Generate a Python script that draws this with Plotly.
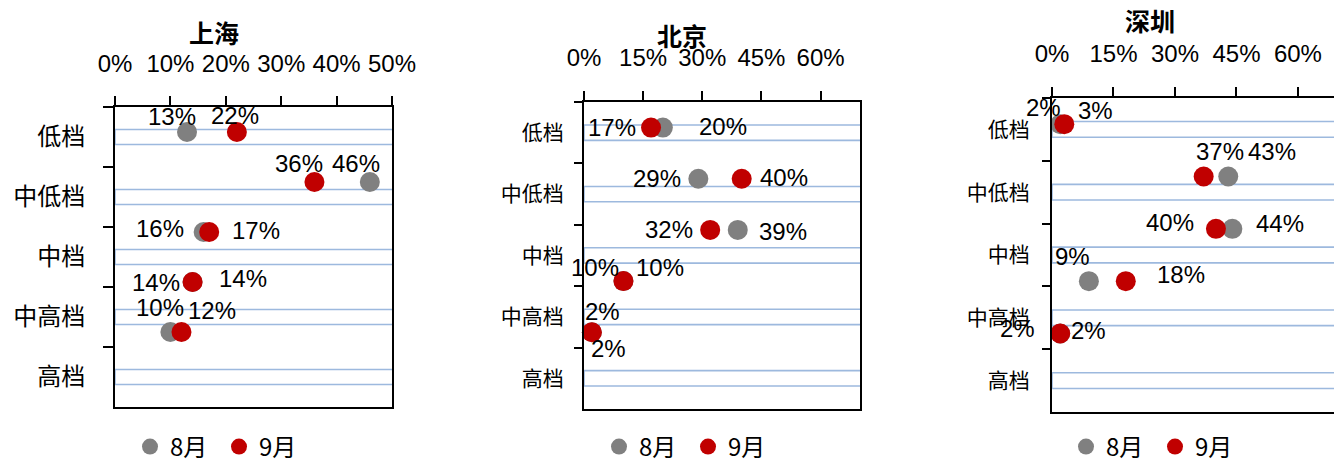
import plotly.graph_objects as go

# ---------------- data ----------------
categories = ["低档", "中低档", "中档", "中高档", "高档"]
cities = ["上海", "北京", "深圳"]

sh_aug = [0.13, 0.46, 0.16, 0.14, 0.10]
sh_sep = [0.22, 0.36, 0.17, 0.14, 0.12]
bj_aug = [0.20, 0.29, 0.39, 0.10, 0.02]
bj_sep = [0.17, 0.40, 0.32, 0.10, 0.02]
sz_aug = [0.02, 0.43, 0.44, 0.09, 0.02]
sz_sep = [0.03, 0.37, 0.40, 0.18, 0.02]

# y values of the dot series on the secondary (0..6) axis, as in the source chart
dot_y = [5.5, 4.5, 3.5, 2.5, 1.5]
# decorative band series (hidden bars with light-blue outline)
band_vals = [1.0, 1.0, 1.0, 1.0, 1.0]

x_ranges = [[0, 0.5], [0, 0.70], [0, 0.688]]
x_dticks = [0.10, 0.15, 0.15]

# ---------------- styles ----------------
W, H = 1334, 461
GRAY = "#808080"
RED = "#C00000"
BAND = "#9DB9DE"
NUMFONT = "Liberation Sans, Arial, Noto Sans CJK SC"
CJKFONT = "Noto Sans CJK SC, Liberation Sans"

# plot-area pixel boxes (left, right, top, bottom)
boxes = [(115, 392, 107, 407), (584, 860, 102, 409), (1052, 1334, 98, 412)]
cat_font_sizes = [24, 21, 21]
ytick_len = [10, 8, 8]
ylab_standoff = [23, 14, 16]
xlab_standoff = [14, 15, 15]
title_pos = [(214, 32), (682, 35), (1150, 20)]
legend_x = [130, 599, 1066]

# label offsets in pixels (dx, dy screen-down) for 8月 and 9月 labels
aug_off = [
    [(-15, -16), (-14, -19), (-44, -4), (-37, 0), (-10, -25)],
    [(60, -1), (-41, 0), (45, 2), (-28, -14), (11, -21)],
    [(-17, -17), (44, -25), (48, -5), (-16, -25), (-43, -5)],
]
sep_off = [
    [(-2, -17), (-15, -19), (47, -2), (50, -4), (31, -22)],
    [(-39, 0), (42, -1), (-41, 0), (37, -14), (17, 16)],
    [(31, -14), (16, -25), (-46, -6), (55, -7), (28, -3)],
]

aug_all = [sh_aug, bj_aug, sz_aug]
sep_all = [sh_sep, bj_sep, sz_sep]

fig = go.Figure()
layout = {}
annotations = []

for i, city in enumerate(cities):
    xs = "" if i == 0 else str(i + 1)
    xname = "x" + xs
    yc = 2 * i + 1
    yd = 2 * i + 2
    ycname = "y" + ("" if yc == 1 else str(yc))
    ydname = "y" + str(yd)
    L, R, T, B = boxes[i]
    xdom = [L / W, R / W]
    ydom = [1 - B / H, 1 - T / H]
    leg = "legend" if i == 0 else "legend" + str(i + 1)

    fig.add_trace(go.Bar(
        y=categories, x=band_vals, orientation="h", width=0.25,
        marker=dict(color="rgba(0,0,0,0)", line=dict(color=BAND, width=1.6)),
        xaxis=xname, yaxis=ycname, showlegend=False, hoverinfo="skip",
    ))
    fig.add_trace(go.Scatter(
        x=aug_all[i], y=dot_y, mode="markers", name="8月",
        marker=dict(color=GRAY, size=20), cliponaxis=False,
        xaxis=xname, yaxis=ydname, legend=leg,
    ))
    fig.add_trace(go.Scatter(
        x=sep_all[i], y=dot_y, mode="markers", name="9月",
        marker=dict(color=RED, size=20), cliponaxis=False,
        xaxis=xname, yaxis=ydname, legend=leg,
    ))

    for vals, offs in ((aug_all[i], aug_off[i]), (sep_all[i], sep_off[i])):
        for v, yy, (dx, dy) in zip(vals, dot_y, offs):
            annotations.append(dict(
                x=v, y=yy, xref=xname, yref=ydname, text=f"{round(v*100)}%",
                showarrow=False, xshift=dx, yshift=-dy,
                font=dict(family=NUMFONT, size=24, color="black"),
            ))

    layout["xaxis" + xs] = dict(
        domain=xdom, anchor=ycname, side="top", range=x_ranges[i],
        dtick=x_dticks[i], tick0=0, tickformat=".0%",
        showline=True, linecolor="black", linewidth=2, mirror=True,
        ticks="outside", ticklen=9, tickwidth=2, tickcolor="black",
        showgrid=False, zeroline=False, ticklabelstandoff=xlab_standoff[i],
        tickfont=dict(family=NUMFONT, size=24, color="black"),
        fixedrange=True, automargin=False,
    )
    layout["yaxis" + ("" if yc == 1 else str(yc))] = dict(
        domain=ydom, anchor=xname, type="category",
        categoryorder="array", categoryarray=categories, range=[4.5, -0.5],
        showline=True, linecolor="black", linewidth=2, mirror=(i < 2),
        ticks="outside", tickson="boundaries", ticklen=ytick_len[i],
        tickwidth=2, tickcolor="black", showgrid=False, zeroline=False,
        ticklabelstandoff=ylab_standoff[i],
        tickfont=dict(family=CJKFONT, size=cat_font_sizes[i], color="black"),
        fixedrange=True, automargin=False,
    )
    layout["yaxis" + str(yd)] = dict(
        overlaying=ycname, anchor=xname, range=[0, 6], visible=False,
        fixedrange=True, automargin=False,
    )
    layout[leg] = dict(
        orientation="h", x=legend_x[i] / W, xanchor="left",
        y=1 - 447 / H, yanchor="middle", bgcolor="rgba(0,0,0,0)",
        font=dict(family=CJKFONT, size=24, color="black"),
        entrywidth=44, itemclick=False, itemdoubleclick=False,
    )
    tx, ty = title_pos[i]
    annotations.append(dict(
        x=tx / W, y=1 - ty / H, xref="paper", yref="paper", text=f"<b>{city}</b>",
        showarrow=False, xanchor="center", yanchor="middle",
        font=dict(family=CJKFONT, size=25, color="black"),
    ))

fig.update_layout(
    width=W, height=H, margin=dict(l=0, r=0, t=0, b=0, autoexpand=False),
    paper_bgcolor="white", plot_bgcolor="white",
    barmode="overlay", annotations=annotations, **layout,
)

fig.write_html("out.html")
